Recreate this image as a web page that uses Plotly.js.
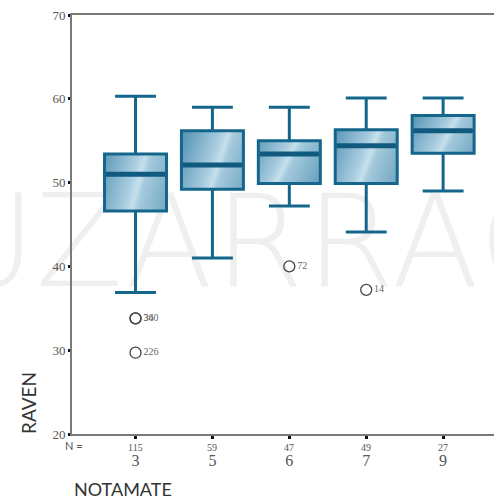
<!DOCTYPE html>
<html>
<head>
<meta charset="utf-8">
<script src="https://cdn.plot.ly/plotly-3.0.1.min.js"></script>
<style>
  html, body { margin: 0; padding: 0; width: 494px; height: 501px; overflow: hidden; background: #ffffff; }
  #wm { position: absolute; left: -58px; top: 178px; font-family: "DejaVu Sans", sans-serif; font-weight: 200;
        font-size: 128px; color: #efefef; white-space: nowrap; letter-spacing: 2px; z-index: 0; line-height: 1; }
  #chart { position: absolute; left: 0; top: 0; width: 510px; height: 501px; z-index: 1; }
</style>
</head>
<body>
<div id="wm">UZARRAGA</div>
<div id="chart"></div>
<script>
const categories = ['3', '5', '6', '7', '9'];
const counts = [115, 59, 47, 49, 27];
const lowerFence = [36.9, 41.0, 47.2, 44.1, 49.0];
const q1 = [46.6, 49.2, 49.9, 49.9, 53.5];
const median = [51.0, 52.1, 53.4, 54.4, 56.2];
const q3 = [53.4, 56.2, 55.0, 56.3, 58.0];
const upperFence = [60.3, 59.0, 59.0, 60.1, 60.1];
const outlierCat = ['3', '3', '3', '6', '7'];
const outlierVal = [33.8, 33.8, 29.7, 40.0, 37.2];
const outlierLabel = ['36', '340', '226', '72', '14'];
const yTicks = [20, 30, 40, 50, 60, 70];

const lineColor = '#15668c';
const boxWidth = 0.806;
const W = 510, H = 501, ML = 72, MR = 0, MT = 15, MB = 67;

const boxTrace = {
  type: 'box',
  x: categories,
  q1: q1, median: median, q3: q3,
  lowerfence: lowerFence, upperfence: upperFence,
  width: boxWidth,
  whiskerwidth: 0.66,
  fillcolor: '#8cb9cf',
  line: { color: lineColor, width: 3 },
  boxpoints: false,
  hoverinfo: 'skip',
  showlegend: false
};

const outlierTrace = {
  type: 'scatter',
  mode: 'markers+text',
  x: outlierCat,
  y: outlierVal,
  text: outlierLabel,
  textposition: 'middle right',
  textfont: { family: 'Liberation Serif, serif', size: 10, color: '#666666' },
  marker: { symbol: 'circle-open', size: 11, color: '#444444', line: { width: 1.3, color: '#444444' } },
  cliponaxis: false,
  hoverinfo: 'skip',
  showlegend: false
};

const shapes = median.map((m, i) => ({
  type: 'line', xref: 'x', yref: 'y',
  x0: i - boxWidth / 2 + 0.02, x1: i + boxWidth / 2 - 0.02, y0: m, y1: m,
  line: { color: '#0f5a7e', width: 5 }, layer: 'above'
}));

const plotW = W - ML - MR, plotH = H - MT - MB;
function px2paperX(px) { return (px - ML) / plotW; }
function px2paperY(py) { return (H - MB - py) / plotH; }

const countAnn = counts.map((n, i) => ({
  x: i, xref: 'x', y: px2paperY(447), yref: 'paper', yanchor: 'middle', xanchor: 'center',
  text: String(n), showarrow: false,
  font: { family: 'Liberation Serif, serif', size: 10, color: '#555555' }
}));

const layout = {
  width: W, height: H,
  margin: { l: ML, r: MR, t: MT, b: MB },
  paper_bgcolor: 'rgba(0,0,0,0)',
  plot_bgcolor: 'rgba(0,0,0,0)',
  xaxis: {
    type: 'category',
    range: [-0.826, -0.826 + plotW / 76.9],
    tickvals: categories, ticktext: categories,
    showline: true, linecolor: '#7a7a7a', linewidth: 2, mirror: true,
    ticks: 'outside', ticklen: 3, tickwidth: 3, tickcolor: '#111111',
    ticklabelstandoff: 8,
    tickfont: { family: 'Liberation Serif, serif', size: 16, color: '#555555' },
    showgrid: false, zeroline: false, fixedrange: true
  },
  yaxis: {
    range: [20, 70],
    tickvals: yTicks, ticktext: yTicks.map(String),
    showline: true, linecolor: '#7a7a7a', linewidth: 2,
    ticks: 'outside', ticklen: 2, tickwidth: 3, tickcolor: '#111111',
    tickfont: { family: 'Liberation Serif, serif', size: 13, color: '#555555' },
    showgrid: false, zeroline: false, fixedrange: true
  },
  shapes: shapes,
  annotations: countAnn.concat([
    { x: px2paperX(74), y: px2paperY(445), xref: 'paper', yref: 'paper', xanchor: 'center', yanchor: 'middle',
      text: 'N =', showarrow: false,
      font: { family: 'Lato, sans-serif', size: 11, color: '#555555' } },
    { x: px2paperX(28), y: px2paperY(403), xref: 'paper', yref: 'paper', xanchor: 'center', yanchor: 'middle',
      text: 'RAVEN', showarrow: false, textangle: -90,
      font: { family: 'Lato, sans-serif', size: 19, color: '#333333' } },
    { x: px2paperX(123), y: px2paperY(489), xref: 'paper', yref: 'paper', xanchor: 'center', yanchor: 'middle',
      text: 'NOTAMATE', showarrow: false,
      font: { family: 'Lato, sans-serif', size: 18, color: '#333333' } }
  ])
};

Plotly.newPlot('chart', [boxTrace, outlierTrace], layout, { displayModeBar: false, staticPlot: true }).then(gd => {
  const svg = gd.querySelector('svg.main-svg');
  const ns = 'http://www.w3.org/2000/svg';
  let defs = svg.querySelector('defs');
  if (!defs) { defs = document.createElementNS(ns, 'defs'); svg.insertBefore(defs, svg.firstChild); }
  const g = document.createElementNS(ns, 'linearGradient');
  g.setAttribute('id', 'boxgrad');
  g.setAttribute('x1', '0'); g.setAttribute('y1', '0.1');
  g.setAttribute('x2', '1'); g.setAttribute('y2', '0.9');
  [['0', '#4a8bad'], ['0.42', '#a9cde0'], ['0.5', '#c6e0ec'], ['0.56', '#a4c9dc'], ['1', '#5a97b5']].forEach(([o, c]) => {
    const s = document.createElementNS(ns, 'stop');
    s.setAttribute('offset', o); s.setAttribute('stop-color', c);
    g.appendChild(s);
  });
  defs.appendChild(g);
  gd.querySelectorAll('.boxlayer path.box').forEach(p => { p.style.fill = 'url(#boxgrad)'; p.style.fillOpacity = 1; });
});
</script>
</body>
</html>
